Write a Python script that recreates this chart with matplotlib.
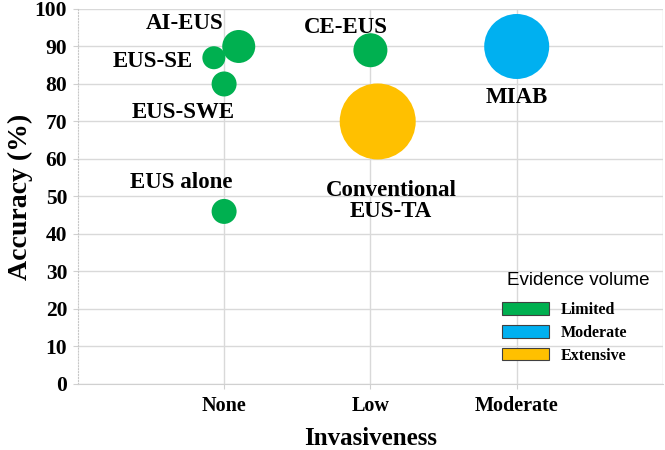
import matplotlib.pyplot as plt
from matplotlib.patches import Patch

# data
labels = ["AI-EUS", "EUS-SE", "EUS-SWE", "EUS alone", "CE-EUS", "Conventional\nEUS-TA", "MIAB"]
invasiveness = [1.10, 0.93, 1.0, 1.0, 2.0, 2.05, 3.0]
accuracy = [90, 87, 80, 46, 89, 70, 90]
bubble_diam = [33, 23, 25, 25, 34, 76, 65]   # pixels
evidence = ["Limited", "Limited", "Limited", "Limited", "Limited", "Extensive", "Moderate"]
label_x = [0.73, 0.51, 0.72, 0.71, 1.83, 2.14, 3.0]
label_y = [96, 86, 72.5, 53.6, 95, 48.8, 76.5]

x_ticks = [1, 2, 3]
x_ticklabels = ["None", "Low", "Moderate"]
colors = {"Limited": "#00B050", "Moderate": "#00B0F0", "Extensive": "#FFC000"}

serif = "Liberation Serif"
plt.rcParams['font.family'] = serif

fig = plt.figure(figsize=(6.65, 4.5), dpi=100)
ax = fig.add_axes([0.117, 0.147, 0.88, 0.833])

sizes = [(d * 0.72) ** 2 for d in bubble_diam]
ax.scatter(invasiveness, accuracy, s=sizes, c=[colors[e] for e in evidence],
           linewidths=0, zorder=3)

for t, x, y in zip(labels, label_x, label_y):
    ax.text(x, y, t, ha='center', va='center', fontsize=16.5, fontweight='bold',
            linespacing=1.0, zorder=4)

ax.set_xlim(0, 4)
ax.set_ylim(0, 100)
ax.set_yticks(range(0, 101, 10))
ax.set_xticks(x_ticks)
ax.set_xticklabels(x_ticklabels)
ax.tick_params(axis='both', color='#D0D0D0', length=3.6)
ax.tick_params(axis='y', labelsize=15.5, pad=4)
ax.tick_params(axis='x', labelsize=14.5, pad=5)
for lab in ax.get_xticklabels() + ax.get_yticklabels():
    lab.set_fontweight('bold')

ax.grid(True, color='#D9D9D9', linewidth=1, zorder=0)
ax.set_axisbelow(True)
for s in ['top', 'right']:
    ax.spines[s].set_visible(False)
ax.spines['bottom'].set_color('#D0D0D0')
ax.spines['left'].set_color('#C8C8C8')
ax.spines['left'].set_linestyle(':')
ax.axvline(4, color='#D9D9D9', linewidth=1, zorder=0)

ax.set_xlabel("Invasiveness", fontsize=18, fontweight='bold', labelpad=8)
ax.set_ylabel("Accuracy (%)", fontsize=20, fontweight='bold', labelpad=1)

handles = [Patch(facecolor=colors[k], edgecolor='#404040', linewidth=0.8, label=k)
           for k in ["Limited", "Moderate", "Extensive"]]
leg = ax.legend(handles=handles, loc='upper left', bbox_to_anchor=(0.725, 0.218),
                frameon=False, handlelength=2.95, handleheight=0.85, handletextpad=0.75,
                borderpad=0, borderaxespad=0,
                prop={'family': serif, 'weight': 'bold', 'size': 11.5},
                labelspacing=0.42)
ax.text(0.856, 0.275, "Evidence volume", transform=ax.transAxes, ha='center', va='center',
        fontsize=13.5, family='Liberation Sans')

fig.savefig("out.png", dpi=100)
